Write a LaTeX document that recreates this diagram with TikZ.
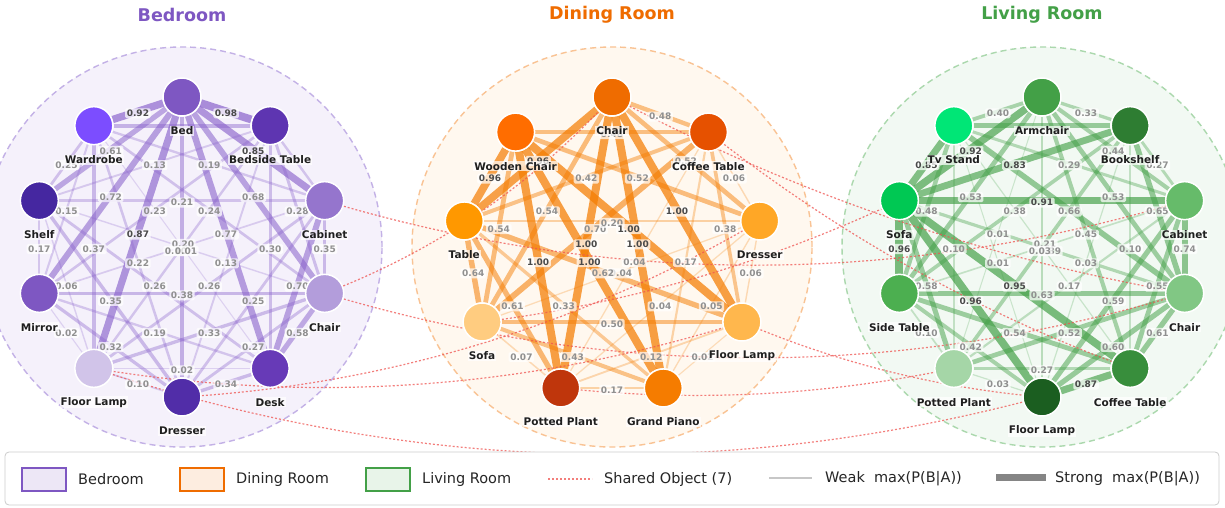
\documentclass[tikz,border=0pt]{standalone}
\usepackage{fontspec}
\setmainfont{DejaVu Sans}
\usetikzlibrary{calc}
\pgfdeclarelayer{bg}
\pgfdeclarelayer{edges}
\pgfdeclarelayer{elabels}
\pgfsetlayers{bg,edges,elabels,main}
\definecolor{bedc}{HTML}{7E57C2}
\definecolor{dinc}{HTML}{EF6C00}
\definecolor{livc}{HTML}{43A047}
\definecolor{bedbg}{HTML}{F5F1FB}
\definecolor{dinbg}{HTML}{FFF8EF}
\definecolor{livbg}{HTML}{F2F9F3}
\definecolor{bedbd}{HTML}{C3B1E6}
\definecolor{dinbd}{HTML}{F9C394}
\definecolor{livbd}{HTML}{ABD8AD}
\definecolor{bede}{HTML}{8A63CC}
\definecolor{dine}{HTML}{F57C00}
\definecolor{live}{HTML}{43A047}
\definecolor{shc}{HTML}{EF5350}
\definecolor{ldark}{HTML}{4A4A4A}
\definecolor{lgray}{HTML}{909090}
\definecolor{legbd}{HTML}{CCCCCC}
% node colours
\definecolor{cB0}{HTML}{7E57C2}\definecolor{cB1}{HTML}{5E35B1}\definecolor{cB2}{HTML}{9575CD}
\definecolor{cB3}{HTML}{B39DDB}\definecolor{cB4}{HTML}{673AB7}\definecolor{cB5}{HTML}{512DA8}
\definecolor{cB6}{HTML}{D1C4E9}\definecolor{cB7}{HTML}{7E57C2}\definecolor{cB8}{HTML}{4527A0}
\definecolor{cB9}{HTML}{7C4DFF}
\definecolor{cD0}{HTML}{EF6C00}\definecolor{cD1}{HTML}{E65100}\definecolor{cD2}{HTML}{FFA726}
\definecolor{cD3}{HTML}{FFB74D}\definecolor{cD4}{HTML}{F57C00}\definecolor{cD5}{HTML}{BF360C}
\definecolor{cD6}{HTML}{FFCC80}\definecolor{cD7}{HTML}{FF9800}\definecolor{cD8}{HTML}{FF6D00}
\definecolor{cL0}{HTML}{43A047}\definecolor{cL1}{HTML}{2E7D32}\definecolor{cL2}{HTML}{66BB6A}
\definecolor{cL3}{HTML}{81C784}\definecolor{cL4}{HTML}{388E3C}\definecolor{cL5}{HTML}{1B5E20}
\definecolor{cL6}{HTML}{A5D6A7}\definecolor{cL7}{HTML}{4CAF50}\definecolor{cL8}{HTML}{00C853}
\definecolor{cL9}{HTML}{00E676}
\tikzset{
 obj/.style={circle, minimum size=38pt, inner sep=0pt, draw=white, line width=1.5pt},
 nlab/.style={font=\bfseries\fontsize{10.5}{12}\selectfont, text=black!88, fill=white, fill opacity=0.7, text opacity=1, inner sep=1pt},
 elab/.style={font=\bfseries\fontsize{9}{10}\selectfont, fill=white, fill opacity=0.72, text opacity=1, inner sep=1.6pt, rounded corners=1.5pt},
 roomc/.style={line width=1.4pt, dash pattern=on 6pt off 4pt},
 shared/.style={draw=shc, draw opacity=0.75, line width=1.2pt, dash pattern=on 2pt off 2pt},
 ttl/.style={font=\bfseries\fontsize{17.5}{20}\selectfont},
 legtext/.style={font=\fontsize{14.5}{16}\selectfont, anchor=west, text=black!85, inner sep=0pt},
 swatch/.style={line width=1.3pt},
}
\newcommand\drawedges[2]{\foreach \a/\b/\w in #2 {\pgfmathsetmacro\lw{1+7*\w}\pgfmathsetmacro\op{0.22+0.5*\w}\draw[draw=#1, line width=\lw pt, draw opacity=\op] (\a) -- (\b);}}
\newcommand\drawelabels[1]{\foreach \a/\b/\w in #1 {\ifdim\w pt<0.795pt\def\lc{lgray}\else\def\lc{ldark}\fi\node[elab,text=\lc] (e\a\b) at ($(\a)!0.5!(\b)+(0,2)$) {\w};}}
\newcommand\shline[3]{%
 \coordinate (shm) at ($(#1.center)!0.5!(#2.center)$);
 \coordinate (shk) at ($(shm)!#3!-90:(#2.center)$);
 \draw[shared] (#1.center) .. controls ($(#1.center)!0.6667!(shk)$) and ($(#2.center)!0.6667!(shk)$) .. (#2.center);}
\def\bedE{B0/B1/0.98,B2/B3/0.35,B3/B4/0.58,B4/B5/0.34,B5/B6/0.10,B6/B7/0.02,B7/B8/0.17,B8/B9/0.25,B9/B0/0.92,B0/B2/0.85,B1/B3/0.28,B2/B4/0.70,B3/B5/0.27,B4/B6/0.02,B5/B7/0.32,B6/B8/0.06,B7/B9/0.15,B8/B0/0.61,B0/B3/0.68,B1/B4/0.30,B2/B5/0.25,B3/B6/0.33,B4/B7/0.19,B5/B8/0.35,B6/B9/0.37,B7/B0/0.72,B8/B1/0.13,B9/B2/0.19,B0/B4/0.77,B1/B5/0.13,B2/B6/0.26,B3/B7/0.38,B4/B8/0.26,B5/B9/0.22,B6/B0/0.87,B7/B1/0.23,B8/B2/0.21,B9/B3/0.24}
\def\bedC{B1/B2/0.20,B9/B1/0.45,B0/B5/0.50,B1/B6/0.20,B2/B7/0.10,B3/B8/0.06,B4/B9/0.01}
\def\dinE{D0/D1/0.48,D1/D2/0.06,D2/D3/0.06,D3/D4/0.02,D4/D5/0.17,D5/D6/0.07,D6/D7/0.64,D7/D8/0.96,D0/D2/0.52,D1/D3/0.38,D2/D4/0.05,D3/D5/0.12,D4/D6/0.43,D5/D7/0.61,D6/D8/0.54,D7/D0/0.96,D8/D1/0.48,D0/D3/1.00,D1/D4/0.17,D2/D5/0.04,D3/D6/0.50,D4/D7/0.33,D5/D8/1.00,D6/D0/0.54,D7/D1/0.42,D8/D2/0.52,D0/D4/1.00,D1/D5/0.04,D2/D6/0.04,D3/D7/0.62,D4/D8/1.00,D5/D0/1.00,D6/D1/0.70,D7/D2/0.20,D8/D3/1.00}
\def\livE{L0/L1/0.33,L1/L2/0.27,L2/L3/0.74,L3/L4/0.61,L4/L5/0.87,L5/L6/0.03,L6/L7/0.10,L7/L8/0.96,L8/L9/0.85,L9/L0/0.40,L0/L2/0.44,L1/L3/0.65,L2/L4/0.55,L3/L5/0.60,L4/L6/0.27,L5/L7/0.42,L6/L8/0.58,L7/L9/0.48,L8/L0/0.92,L0/L3/0.53,L1/L4/0.10,L2/L5/0.59,L3/L6/0.52,L4/L7/0.54,L5/L8/0.96,L6/L9/0.10,L7/L0/0.53,L8/L1/0.83,L9/L2/0.29,L0/L4/0.45,L1/L5/0.03,L2/L6/0.17,L3/L7/0.63,L4/L8/0.95,L5/L9/0.01,L6/L0/0.01,L7/L1/0.38,L8/L2/0.91,L9/L3/0.66}
\def\livC{L9/L1/0.60,L0/L5/0.21,L1/L6/0.39,L2/L7/0.09,L3/L8/0.31,L4/L9/0.03}
\begin{document}
\begin{tikzpicture}[x=1pt,y=-1pt]
\useasboundingbox (0,0) rectangle (1225,508);
\clip (0,0) rectangle (1225,508);
% room areas
\begin{pgfonlayer}{bg}
\fill[white] (0,0) rectangle (1225,508);
\filldraw[fill=bedbg, draw=bedbd, roomc] (182,247) circle[radius=200pt];
\filldraw[fill=dinbg, draw=dinbd, roomc] (612,247) circle[radius=200pt];
\filldraw[fill=livbg, draw=livbd, roomc] (1042,247) circle[radius=200pt];
\end{pgfonlayer}
% titles
\node[ttl, text=bedc] (t1) at (182,15) {Bedroom};
\node[ttl, text=dinc] (t2) at (612,15) {Dining Room};
\node[ttl, text=livc] (t3) at (1042,15) {Living Room};
% nodes
\foreach \n/\x/\y in {B0/182/97, B1/270.17/125.65, B2/324.66/200.65, B3/324.66/293.35, B4/270.17/368.35, B5/182/397, B6/93.83/368.35, B7/39.34/293.35, B8/39.34/200.65, B9/93.83/125.65}
 {\node[obj, fill=c\n] (\n) at (\x,\y) {};}
\foreach \n/\x/\y in {D0/612/97, D1/708.42/132.10, D2/759.72/220.95, D3/741.90/322, D4/663.30/387.95, D5/560.70/387.95, D6/482.10/322, D7/464.28/220.95, D8/515.58/132.10}
 {\node[obj, fill=c\n] (\n) at (\x,\y) {};}
\foreach \n/\x/\y in {L0/1042/97, L1/1130.17/125.65, L2/1184.66/200.65, L3/1184.66/293.35, L4/1130.17/368.35, L5/1042/397, L6/953.83/368.35, L7/899.34/293.35, L8/899.34/200.65, L9/953.83/125.65}
 {\node[obj, fill=c\n] (\n) at (\x,\y) {};}
% node labels
\foreach \n/\t in {B0/Bed, B1/Bedside Table, B2/Cabinet, B3/Chair, B4/Desk, B5/Dresser, B6/Floor Lamp, B7/Mirror, B8/Shelf, B9/Wardrobe, D0/Chair, D1/Coffee Table, D2/Dresser, D3/Floor Lamp, D4/Grand Piano, D5/Potted Plant, D6/Sofa, D7/Table, D8/Wooden Chair, L0/Armchair, L1/Bookshelf, L2/Cabinet, L3/Chair, L4/Coffee Table, L5/Floor Lamp, L6/Potted Plant, L7/Side Table, L8/Sofa, L9/Tv Stand}
 {\node[nlab] (\n l) at ($(\n.center)+(0,34)$) {\t};}
% edges
\begin{pgfonlayer}{edges}
\drawedges{bede}{\bedE}
\drawedges{bede}{\bedC}
\drawedges{dine}{\dinE}
\drawedges{live}{\livE}
\drawedges{live}{\livC}
% shared objects
\shline{B3}{D0}{0.24}
\shline{B3}{L3}{0.3}
\shline{D0}{L3}{0.16}
\shline{B6}{D3}{0.24}
\shline{B6}{L5}{0.3}
\shline{D3}{L5}{0.16}
\shline{B2}{L2}{0.3}
\shline{B5}{D2}{0.24}
\shline{D1}{L4}{0.16}
\shline{D5}{L6}{0.16}
\shline{D6}{L8}{0.16}
\end{pgfonlayer}
% edge labels
\begin{pgfonlayer}{elabels}
\drawelabels{\bedE}
\drawelabels{\dinE}
\drawelabels{\livE}
\node[elab,text=lgray] (bc1) at (183,244) {0.20};
\node[elab,text=lgray] (bc2) at (176,251) {0.10};
\node[elab,text=lgray] (bc3) at (186,251) {0.01};
\node[elab,text=lgray] (lc1) at (1045,244) {0.21};
\node[elab,text=lgray] (lc2) at (1050,251) {0.39};
\node[elab,text=lgray] (lc3) at (1040,251) {0.03};
\end{pgfonlayer}
% legend
\draw[draw=legbd, fill=white, rounded corners=4pt, line width=0.8pt] (5,452) rectangle (1219,505);
\filldraw[swatch, fill=bedc!14, draw=bedc] (22,468) rectangle (66,491);
\node[legtext] (lg1) at (78,479) {Bedroom};
\filldraw[swatch, fill=dinc!12, draw=dinc] (180,468) rectangle (224,491);
\node[legtext] (lg2) at (236,479) {Dining Room};
\filldraw[swatch, fill=livc!12, draw=livc] (366,468) rectangle (410,491);
\node[legtext] (lg3) at (422,479) {Living Room};
\coordinate (s1) at (548,479); \coordinate (s2) at (592,479);
\draw[shared] (s1) -- (s2);
\node[legtext] (lg4) at (604,479) {Shared Object (7)};
\coordinate (w1) at (769,478); \coordinate (w2) at (812,478);
\draw[draw=black!22, line width=2pt] (w1) -- (w2);
\node[legtext] (lg5) at (825,479) {Weak\ \ max(P(B|A))};
\coordinate (g1) at (996,477); \coordinate (g2) at (1046,477);
\draw[draw=black!48, line width=7pt] (g1) -- (g2);
\node[legtext] (lg6) at (1055,479) {Strong\ \ max(P(B|A))};
\end{tikzpicture}
\end{document}
